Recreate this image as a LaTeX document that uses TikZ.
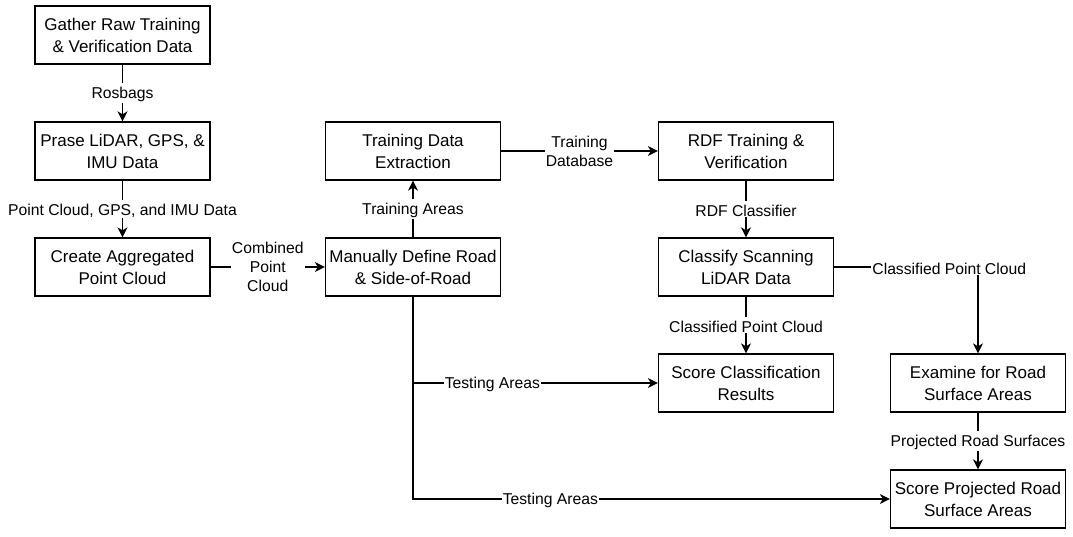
\documentclass[tikz,border=0pt]{standalone}
\usepackage{fontspec}
\setmainfont{Liberation Sans}
\usetikzlibrary{arrows.meta}
\begin{document}
\begin{tikzpicture}[x=1pt,y=-1pt,
  box/.style={draw, line width=1.3pt, minimum width=175pt, minimum height=58pt, inner sep=0pt, align=center, font=\fontsize{17}{22}\selectfont, execute at begin node={\rule{0pt}{16.5pt}}},
  lbl/.style={fill=white, inner sep=1pt, align=center, font=\fontsize{15.7}{19}\selectfont, execute at begin node={\rule{0pt}{14.5pt}}},
  conn/.style={line width=1.3pt, -{Stealth[length=10pt,width=10pt,inset=3pt]}}
]
\useasboundingbox (0,0) rectangle (1073,537);
\node[box] (g)  at (122.5,35)  {Gather Raw Training\\\& Verification Data};
\node[box] (p)  at (122.5,151) {Prase LiDAR, GPS, \&\\IMU Data};
\node[box] (c)  at (122.5,267) {Create Aggregated\\Point Cloud};
\node[box] (t)  at (413,151)   {Training Data\\Extraction};
\node[box] (m)  at (413,267)   {Manually Define Road\\\& Side-of-Road};
\node[box] (r)  at (746,151)   {RDF Training \&\\Verification};
\node[box] (cl) at (746,267)   {Classify Scanning\\LiDAR Data};
\node[box] (s)  at (746,383)   {Score Classification\\Results};
\node[box] (e)  at (978,383)   {Examine for Road\\Surface Areas};
\node[box] (sp) at (978,499)   {Score Projected Road\\Surface Areas};

\draw[conn] (g) -- node[lbl] {Rosbags} (p);
\draw[conn] (p) -- node[lbl] {Point Cloud, GPS, and IMU Data} (c);
\draw[conn] (c) -- node[lbl] {Combined\\Point\\Cloud} (m);
\draw[conn] (m) -- node[lbl] {Training Areas} (t);
\draw[conn] (t) -- node[lbl] {Training\\Database} (r);
\draw[conn] (r) -- node[lbl] {RDF Classifier} (cl);
\draw[conn] (cl) -- node[lbl] {Classified Point Cloud} (s);
\draw[conn] (cl.east) -| node[lbl, pos=0.4] {Classified Point Cloud} (e.north);
\draw[conn] (e) -- node[lbl] {Projected Road Surfaces} (sp);
\draw[conn] (m.south) |- node[lbl, pos=0.644] {Testing Areas} (sp.west);
\draw[conn] (m.south) |- node[lbl, pos=0.662] {Testing Areas} (s.west);
\end{tikzpicture}
\end{document}
